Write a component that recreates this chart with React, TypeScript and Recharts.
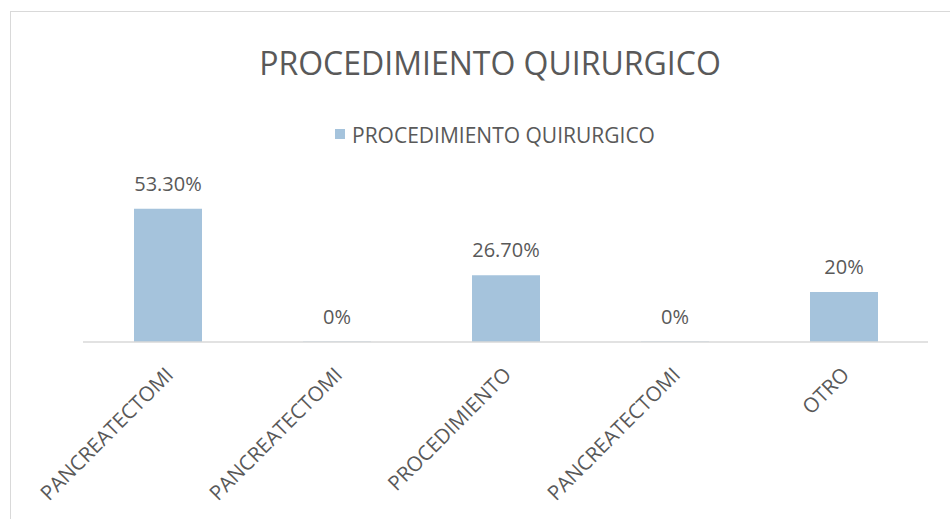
import { Bar, BarChart, LabelList, XAxis, YAxis } from 'recharts'

const categories = ['PANCREATECTOMI', 'PANCREATECTOMI', 'PROCEDIMIENTO', 'PANCREATECTOMI', 'OTRO']
const percentages = [53.3, 0, 26.7, 0, 20]
const seriesName = 'PROCEDIMIENTO QUIRURGICO'
const chartTitle = 'PROCEDIMIENTO QUIRURGICO'

const data = categories.map((name, i) => ({ name, value: percentages[i] }))

const FONT = '"Open Sans", "Liberation Sans", sans-serif'
const TEXT = '#595959'
const BAR = '#a5c3dc'
const GRID = '#d9d9d9'

const formatPct = (v: number) => (Number.isInteger(v) ? `${v}%` : `${v.toFixed(2)}%`)

function RotatedTick({ x, y, payload }: any) {
  const tx = x + 2
  const ty = y + 29
  return (
    <text
      x={tx}
      y={ty}
      dy="0.35em"
      textAnchor="end"
      transform={`rotate(-45, ${tx}, ${ty})`}
      fill={TEXT}
      fontSize={20.5}
      fontFamily={FONT}
    >
      {payload.value}
    </text>
  )
}

export default function App() {
  return (
    <div style={{ position: 'absolute', left: 0, top: 0, width: 950, height: 519, overflow: 'hidden', background: '#fff' }}>
      <div
        style={{
          position: 'absolute',
          left: 10,
          top: 11,
          width: 940,
          height: 508,
          borderTop: `1px solid ${GRID}`,
          borderLeft: `1px solid ${GRID}`,
        }}
      />
      <div
        style={{
          position: 'absolute',
          left: 0,
          width: 980,
          top: 40,
          textAlign: 'center',
          fontFamily: FONT,
          fontSize: 32,
          lineHeight: '46px',
          color: TEXT,
          whiteSpace: 'nowrap',
        }}
      >
        {chartTitle}
      </div>
      {/* legend */}
      <div style={{ position: 'absolute', left: 335, top: 129, width: 10, height: 10, background: BAR }} />
      <div
        style={{
          position: 'absolute',
          left: 352,
          top: 121,
          fontSize: 21,
          lineHeight: '28px',
          color: TEXT,
          fontFamily: FONT,
          whiteSpace: 'nowrap',
        }}
      >
        {seriesName}
      </div>
      <div style={{ position: 'absolute', left: 0, top: 0 }}>
        <BarChart width={950} height={519} data={data} margin={{ top: 192, right: 22, bottom: 0, left: 83 }}>
          <YAxis hide domain={[0, 60]} />
          <Bar
            dataKey="value"
            name={seriesName}
            fill={BAR}
            barSize={68}
            minPointSize={0.5}
            isAnimationActive={false}
          >
            <LabelList
              dataKey="value"
              position="top"
              offset={18}
              formatter={(v: any) => formatPct(Number(v))}
              fill={TEXT}
              fontSize={20}
              fontFamily={FONT}
            />
          </Bar>
          <XAxis
            dataKey="name"
            axisLine={{ stroke: GRID, strokeWidth: 1.5 }}
            tickLine={false}
            tickSize={0}
            tickMargin={0}
            interval={0}
            tick={<RotatedTick />}
            height={177}
          />
        </BarChart>
      </div>
    </div>
  )
}
